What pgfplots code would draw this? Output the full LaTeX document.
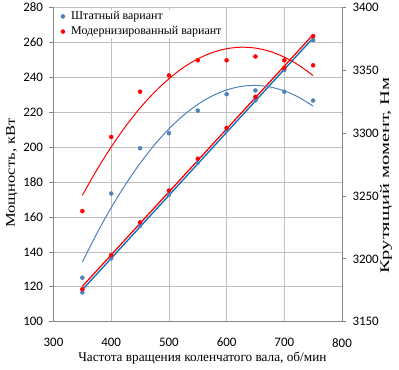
\documentclass[border=0pt]{standalone}
\usepackage{pgfplots}
\usepackage{pgfplotstable}
\pgfplotsset{compat=1.18}
\usepackage{fontspec}
\setmainfont{Liberation Serif}
\newfontfamily\tickfont{Carlito}
\definecolor{mblue}{RGB}{79,129,189}
\definecolor{lblue}{RGB}{0,112,192}
\definecolor{mred}{RGB}{255,0,0}
\definecolor{gridc}{RGB}{191,191,191}
\definecolor{axc}{RGB}{134,134,134}

\pgfplotstableread{
n   Tb   Tr   Pb    Pr
350 3185 3238 116.8 118.6
400 3252 3297 136.3 138.2
450 3288 3333 154.9 156.9
500 3300 3346 172.7 175.1
550 3318 3358 191.1 193.4
600 3331 3358 209.5 211.0
650 3334 3361 226.8 228.8
700 3333 3358 244.3 245.5
750 3326 3354 261.3 263.6
}\data

% quadratic trend lines of the torque
\pgfplotstableread{
n   Tb      Tr
350 3197.5 3250.5
375 3220.1 3270.7
400 3240.7 3289.0
425 3259.3 3305.5
450 3276.0 3320.0
475 3290.7 3332.6
500 3303.4 3343.3
525 3314.1 3352.2
550 3322.9 3359.1
575 3329.6 3364.1
600 3334.4 3367.2
625 3337.2 3368.4
650 3338.0 3367.7
675 3336.8 3365.1
700 3333.7 3360.5
725 3328.6 3354.1
750 3321.5 3345.8
}\trend

\pgfplotsset{
  commonstyle/.style={
    scale only axis, width=288.5bp, height=314.2bp,
    xmin=300, xmax=800,
    axis line style={axc, line width=0.75pt},
    every tick/.style={axc, line width=0.75pt},
    tick align=outside, major tick length=4bp,
    tick label style={font=\tickfont\fontsize{13}{15}\selectfont},
    /pgf/number format/assume math mode=true,
    /pgf/number format/1000 sep={},
    label style={font=\fontsize{13.3}{15}\selectfont},
  }
}

\begin{document}
\begin{tikzpicture}
\begin{axis}[
  commonstyle,
  name=main,
  ymin=100, ymax=280,
  axis x line*=bottom, axis y line*=left,
  xtick={300,400,...,800}, ytick={100,120,...,280},
  grid=major, grid style={gridc, line width=0.75pt},
  xtick style={draw=none},
  xticklabel style={yshift=-9bp},
  yticklabel style={xshift=-3bp},
  xlabel={Частота вращения коленчатого вала, об/мин},
  ylabel={\scalebox{1.25}[1]{Мощность, кВт}},
  xlabel style={at={(axis description cs:0.516,-0.1155)}, anchor=center},
  ylabel style={at={(axis description cs:-0.144,0.473)}, anchor=center},
  legend style={at={(axis description cs:0.004,0.994)}, anchor=north west,
    draw=none, fill=white, inner xsep=1bp, inner ysep=0bp,
    font=\fontsize{12}{14}\selectfont, row sep=1.5bp},
  legend cell align=left,
  legend image code/.code={\draw[#1] plot coordinates {(0.25cm,0cm)}; \path[draw=none] (0,0) -- (0.47cm,0);},
]
\addplot[only marks, mark=*, mark size=2bp, mblue] table[x=n, y=Pb] \data;
\addlegendentry{Штатный вариант}
\addplot[only marks, mark=*, mark size=2bp, mred] table[x=n, y=Pr] \data;
\addlegendentry{Модернизированный вариант}
\addplot[lblue, line width=1.3pt, forget plot] table[x=n, y={create col/linear regression={y=Pb}}] \data;
\addplot[mred, line width=1.3pt, forget plot] table[x=n, y={create col/linear regression={y=Pr}}] \data;
\end{axis}
\begin{axis}[
  commonstyle,
  ymin=3150, ymax=3400,
  axis x line=none, axis y line*=right,
  ytick={3150,3200,...,3400},
  yticklabel style={xshift=3bp},
  ylabel={\scalebox{1.55}[1]{Крутящий момент, Нм}},
  ylabel style={at={(axis description cs:1.1525,0.465)}, anchor=center},
]
\addplot[only marks, mark=*, mark size=2bp, mblue] table[x=n, y=Tb] \data;
\addplot[only marks, mark=*, mark size=2bp, mred] table[x=n, y=Tr] \data;
\addplot[mblue, line width=1pt, smooth] table[x=n, y=Tb] \trend;
\addplot[mred, line width=1pt, smooth] table[x=n, y=Tr] \trend;
\end{axis}
\pgfresetboundingbox
\path (-53.5bp,-48.3bp) rectangle (345.5bp,321.7bp);
\end{tikzpicture}
\end{document}
